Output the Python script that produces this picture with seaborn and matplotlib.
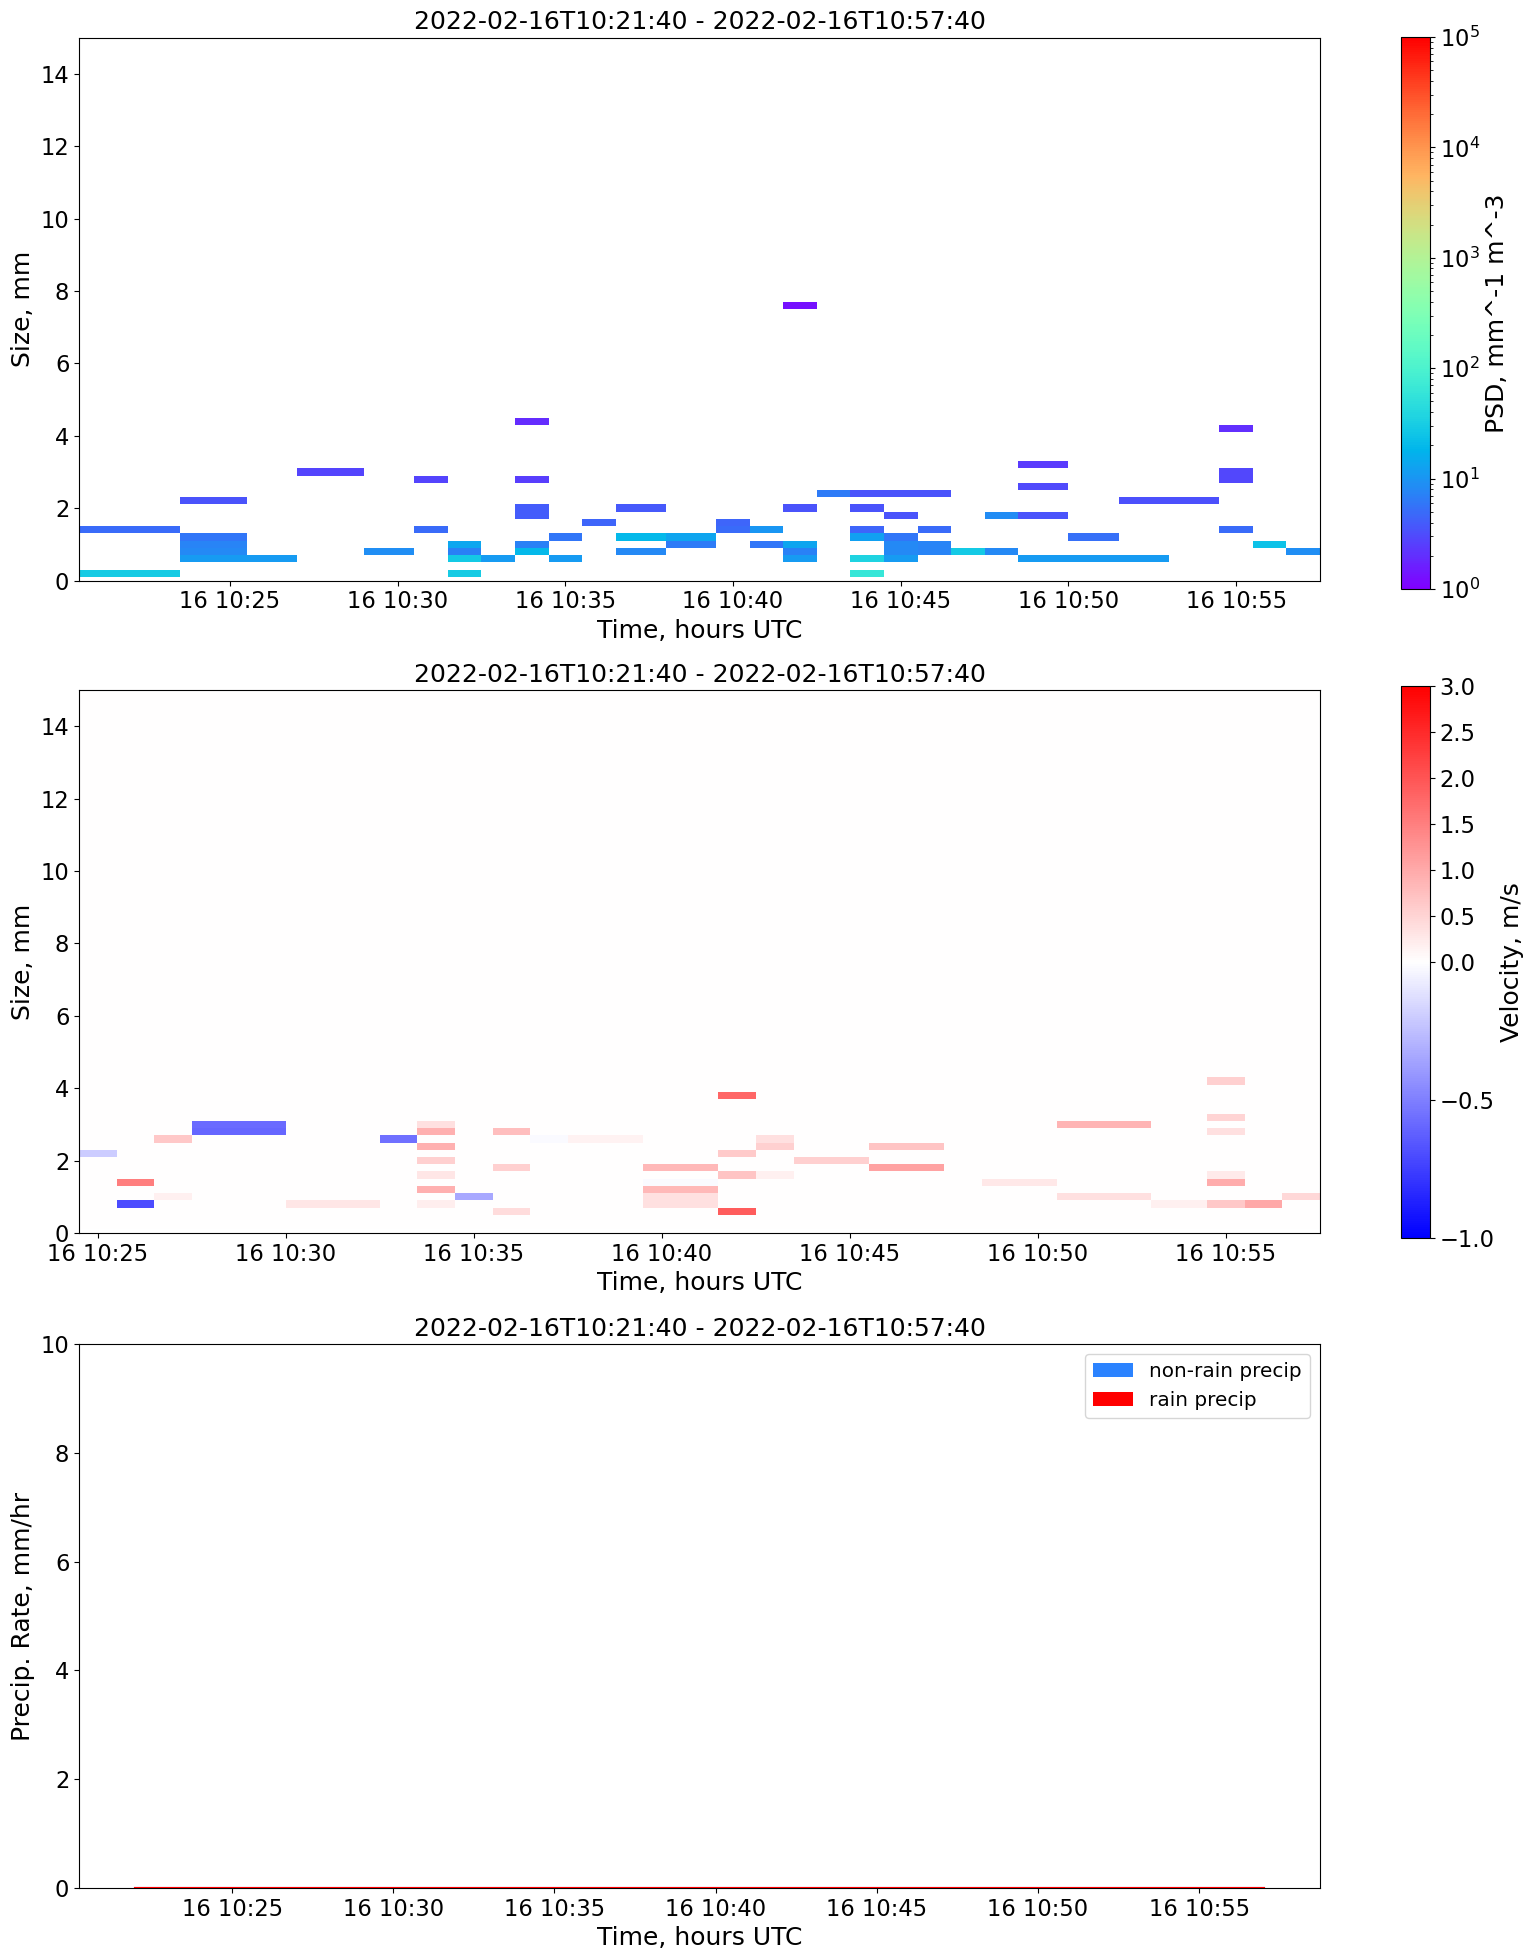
import numpy as np
import pandas as pd
import matplotlib
matplotlib.use("Agg")
import matplotlib.pyplot as plt
import matplotlib.dates as mdates
from matplotlib.colors import LogNorm, TwoSlopeNorm
import seaborn as sns

DAY = "2022-02-16 "
TITLE = "2022-02-16T10:21:40 - 2022-02-16T10:57:40"

# -------------------- PSD PANEL --------------------
psd_edges = ["10:20:30", "10:23:30", "10:25:30", "10:27:00", "10:29:00", "10:30:30",
             "10:31:30", "10:32:30", "10:33:30", "10:34:30", "10:35:30", "10:36:30",
             "10:38:00", "10:39:30", "10:40:30", "10:41:30", "10:42:30", "10:43:30",
             "10:44:30", "10:45:30", "10:46:30", "10:47:30", "10:48:30", "10:50:00",
             "10:51:30", "10:53:00", "10:54:30", "10:55:30", "10:56:30", "10:57:30"]
psd_col = [0, 0,
           1, 1, 1, 1, 1,
           2,
           3,
           4,
           5, 5,
           6, 6, 6, 6,
           7,
           8, 8, 8, 8, 8, 8,
           9, 9,
           10,
           11, 11, 11,
           12, 12,
           13, 13,
           14, 14,
           15, 15, 15, 15, 15,
           16,
           17, 17, 17, 17, 17, 17,
           18, 18, 18, 18, 18, 18,
           19, 19, 19, 19,
           20,
           21, 21,
           22, 22, 22, 22,
           23, 23,
           24, 24,
           25,
           26, 26, 26, 26,
           27,
           28]
psd_size = [0.2, 1.4,
            2.2, 1.2, 1.0, 0.8, 0.6,
            0.6,
            3.0,
            0.8,
            2.8, 1.4,
            1.0, 0.8, 0.6, 0.2,
            0.6,
            4.4, 2.8, 2.0, 1.8, 1.0, 0.8,
            1.2, 0.6,
            1.6,
            2.0, 1.2, 0.8,
            1.2, 1.0,
            1.6, 1.4,
            1.4, 1.0,
            7.6, 2.0, 1.0, 0.8, 0.6,
            2.4,
            2.4, 2.0, 1.4, 1.2, 0.6, 0.2,
            2.4, 1.8, 1.2, 1.0, 0.8, 0.6,
            2.4, 1.4, 1.0, 0.8,
            0.8,
            1.8, 0.8,
            3.2, 2.6, 1.8, 0.6,
            1.2, 0.6,
            2.2, 0.6,
            2.2,
            4.2, 3.0, 2.8, 1.4,
            1.0,
            0.8]
psd_value = [30, 5,
             3.5, 6, 7.5, 8, 11,
             11,
             2.8,
             9,
             2.7, 5,
             14, 7, 28, 30,
             11,
             1.9, 2.5, 4, 4, 7, 20,
             6, 11,
             4.5,
             3.8, 20, 8,
             13, 6.5,
             4.5, 5,
             10, 6,
             1.3, 3.5, 13, 7, 11,
             6.5,
             3.5, 3.5, 4.5, 12, 36, 60,
             3.5, 3.5, 6, 8, 8, 11,
             3.5, 5, 7.5, 7.5,
             28,
             8.5, 8,
             2.4, 3, 3.5, 11,
             5.5, 11,
             3.3, 11,
             3.3,
             2, 2.9, 2.9, 5,
             24,
             9]

# -------------------- VELOCITY PANEL --------------------
vel_edges = ["10:24:30", "10:25:30", "10:26:30", "10:27:30", "10:30:00", "10:32:30",
             "10:33:30", "10:34:30", "10:35:30", "10:36:30", "10:37:30", "10:39:30",
             "10:41:30", "10:42:30", "10:43:30", "10:45:30", "10:47:30", "10:48:30",
             "10:50:30", "10:53:00", "10:54:30", "10:55:30", "10:56:30", "10:57:30"]
vel_col = [0,
           1, 1,
           2, 2,
           3, 3,
           4,
           5,
           6, 6, 6, 6, 6, 6, 6,
           7,
           8, 8, 8,
           9,
           10,
           11, 11, 11, 11, 11,
           12, 12, 12, 12,
           13, 13, 13,
           14,
           15, 15,
           17,
           18, 18,
           19,
           20, 20, 20, 20, 20, 20,
           21,
           22]
vel_size = [2.2,
            1.4, 0.8,
            2.6, 1.0,
            3.0, 2.8,
            0.8,
            2.6,
            3.0, 2.8, 2.4, 2.0, 1.6, 1.2, 0.8,
            1.0,
            2.8, 1.8, 0.6,
            2.6,
            2.6,
            1.8, 1.4, 1.2, 1.0, 0.8,
            3.8, 2.2, 1.6, 0.6,
            2.6, 2.4, 1.6,
            2.0,
            2.4, 1.8,
            1.4,
            3.0, 1.0,
            0.8,
            4.2, 3.2, 2.8, 1.6, 1.4, 0.8,
            0.8,
            1.0]
vel_value = [-0.2,
             1.5, -0.7,
             0.65, 0.18,
             -0.58, -0.6,
             0.3,
             -0.56,
             0.36, 0.93, 0.93, 0.55, 0.3, 0.93, 0.2,
             -0.34,
             0.75, 0.55, 0.4,
             -0.02,
             0.15,
             0.83, -0.02, 0.83, 0.36, 0.36,
             1.8, 0.62, 0.7, 1.9,
             0.36, 0.55, 0.18,
             0.55,
             0.7, 1.1,
             0.27,
             0.88, 0.36,
             0.18,
             0.55, 0.5, 0.36, 0.25, 0.98, 0.65,
             1.03,
             0.45]

# -------------------- PRECIP PANEL --------------------
precip_times = ["10:22", "10:23", "10:24", "10:25", "10:26", "10:27", "10:28", "10:29", "10:30",
                "10:31", "10:32", "10:33", "10:34", "10:35", "10:36", "10:37", "10:38", "10:39",
                "10:40", "10:41", "10:42", "10:43", "10:44", "10:45", "10:46", "10:47", "10:48",
                "10:49", "10:50", "10:51", "10:52", "10:53", "10:54", "10:55", "10:56", "10:57"]
nonrain_rate = [0, 0, 0, 0, 0, 0, 0, 0, 0, 0, 0, 0, 0, 0, 0, 0, 0, 0,
                0, 0, 0, 0, 0, 0, 0, 0, 0, 0, 0, 0, 0, 0, 0, 0, 0, 0]
rain_rate = [0, 0, 0, 0, 0, 0, 0, 0, 0, 0, 0, 0, 0, 0, 0, 0, 0, 0,
             0, 0, 0, 0, 0, 0, 0, 0, 0, 0, 0, 0, 0, 0, 0, 0, 0, 0]

vel_ticks = [-1.0, -0.5, 0.0, 0.5, 1.0, 1.5, 2.0, 2.5, 3.0]

TICK_FS = 16.3
LABEL_FS = 18
TITLE_FS = 18
W, H = 1531, 1957


def place(fig, left, top, right, bottom):
    return fig.add_axes([left / W, 1 - bottom / H, (right - left) / W, (bottom - top) / H])


def to_num(times):
    return mdates.date2num(pd.to_datetime([DAY + t for t in times]))


def style_time_axis(ax):
    ax.xaxis.set_major_locator(mdates.MinuteLocator(byminute=range(0, 60, 5)))
    ax.xaxis.set_major_formatter(mdates.DateFormatter("%d %H:%M"))
    ax.tick_params(labelsize=TICK_FS)
    ax.set_xlabel("Time, hours UTC", fontsize=LABEL_FS)
    ax.set_title(TITLE, fontsize=TITLE_FS)


def spectrum(ax, edges, col, size, value, norm, cmap, thresh=0):
    # cells sit in the middle of their time bin, sns.histplot puts them on the grid
    edges = to_num(edges)
    col = np.array(col)
    cells = pd.DataFrame({"time": (edges[col] + edges[col + 1]) / 2, "size": size, "value": value})
    sns.histplot(data=cells, x="time", y="size", weights="value", thresh=thresh, cmap=cmap,
                 bins=(edges, np.arange(0.1, 15.2, 0.2)), ax=ax, cbar=False)
    mesh = ax.collections[-1]
    mesh.set_norm(norm)
    ax.set_xlim(edges[0], edges[-1])
    ax.set_ylim(0, 15)
    ax.set_ylabel("Size, mm", fontsize=LABEL_FS)
    style_time_axis(ax)
    return mesh


fig = plt.figure(figsize=(W / 100, H / 100), dpi=100)

ax1 = place(fig, 79, 37.5, 1320, 580.5)
mesh1 = spectrum(ax1, psd_edges, psd_col, psd_size, psd_value, LogNorm(vmin=1, vmax=1e5), "rainbow")
cax1 = place(fig, 1401, 37, 1430, 589)
cb1 = fig.colorbar(mesh1, cax=cax1)
cb1.set_label("PSD, mm^-1 m^-3", fontsize=LABEL_FS)
cb1.ax.tick_params(labelsize=TICK_FS)

ax2 = place(fig, 79, 690, 1320, 1233)
mesh2 = spectrum(ax2, vel_edges, vel_col, vel_size, vel_value,
                 TwoSlopeNorm(vcenter=0, vmin=-1, vmax=3), "bwr", thresh=None)
cax2 = place(fig, 1401, 686, 1430, 1238)
cb2 = fig.colorbar(mesh2, cax=cax2, ticks=vel_ticks)
cb2.set_label("Velocity, m/s", fontsize=LABEL_FS)
cb2.ax.tick_params(labelsize=TICK_FS)

ax3 = place(fig, 79, 1344, 1320, 1888)
precip_x = to_num(precip_times)
ax3.stackplot(precip_x, nonrain_rate, rain_rate,
              colors=["#2b83ff", "red"], labels=["non-rain precip", "rain precip"])
sns.lineplot(x=precip_x, y=nonrain_rate, color="#2b83ff", linewidth=1.5, zorder=3, ax=ax3)
sns.lineplot(x=precip_x, y=rain_rate, color="red", linewidth=1.5, zorder=3, ax=ax3)
ax3.set_xlim(mdates.date2num(pd.Timestamp(DAY + "10:20:15")), mdates.date2num(pd.Timestamp(DAY + "10:58:45")))
ax3.set_ylim(0, 10)
ax3.set_ylabel("Precip. Rate, mm/hr", fontsize=LABEL_FS)
style_time_axis(ax3)
ax3.legend(loc="upper right", fontsize=14.4)

fig.savefig("out.png", dpi=100)
